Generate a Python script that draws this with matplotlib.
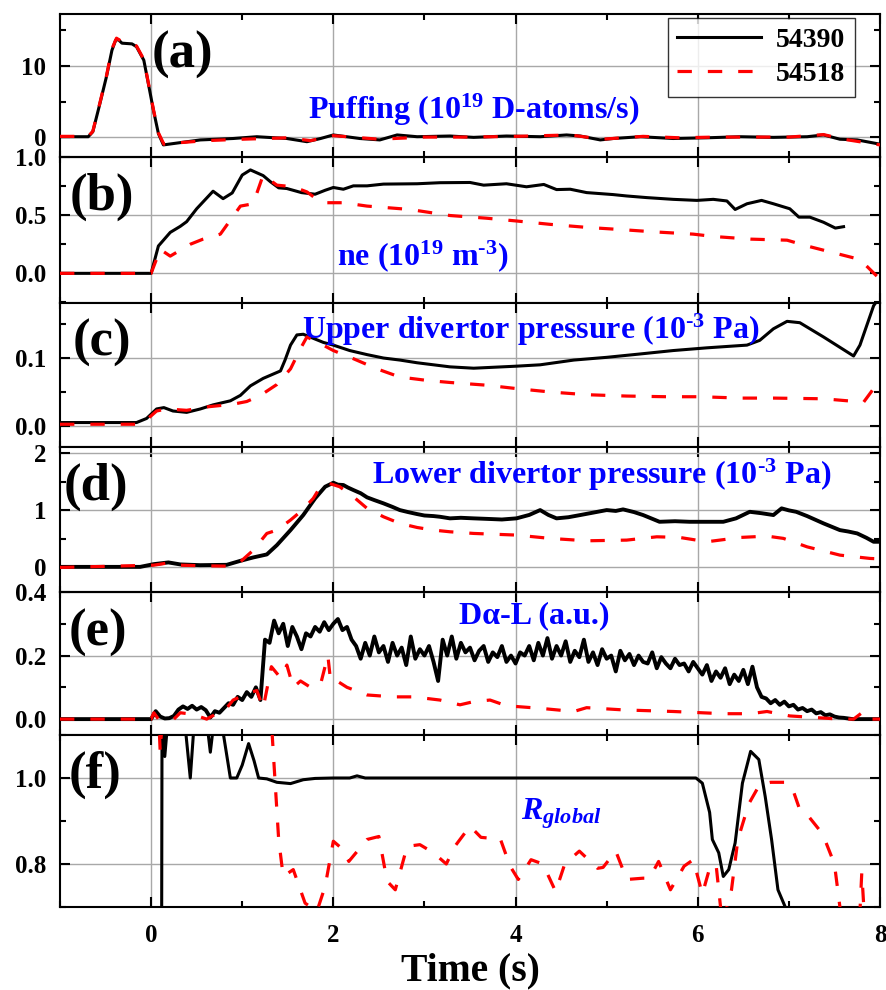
import numpy as np
import matplotlib
matplotlib.use("Agg")
import matplotlib.pyplot as plt
from matplotlib.ticker import MultipleLocator

plt.rcParams['font.family'] = ['Liberation Serif', 'DejaVu Serif']
plt.rcParams['font.weight'] = 'bold'
plt.rcParams['mathtext.fontset'] = 'custom'
plt.rcParams['mathtext.rm'] = 'Liberation Serif:bold'
plt.rcParams['mathtext.bf'] = 'Liberation Serif:bold'
plt.rcParams['mathtext.it'] = 'Liberation Serif:italic:bold'

shots = ['54390', '54518']

# (a) gas puffing, 10^19 D-atoms/s
a_t_54390 = [-1, -0.69, -0.64, -0.57, -0.49, -0.43, -0.39, -0.36, -0.32, -0.21, -0.16, -0.08, -0.03,
             0.025, 0.08, 0.135, 0.25, 0.54, 0.9, 1.16, 1.49, 1.71, 1.86, 2.0, 2.29, 2.51, 2.7, 2.92,
             3.28, 3.54, 3.9, 4.27, 4.56, 4.71, 4.93, 5.07, 5.37, 5.73, 6.1, 6.47, 6.83, 7.2, 7.38,
             7.56, 7.75, 8.0]
a_v_54390 = [0.05, 0.05, 0.75, 4.3, 8.5, 12.2, 13.6, 13.7, 13.2, 13.1, 12.7, 10.8, 7.5,
             3.8, 0.5, -1.1, -0.9, -0.4, -0.2, 0.05, -0.2, -0.65, -0.2, 0.3, -0.2, -0.4, 0.3, 0.05,
             0.15, -0.04, 0.15, 0.05, 0.3, 0.15, -0.4, -0.2, 0.05, -0.2, -0.1, 0.05, -0.04, 0.05, 0.3,
             -0.3, -0.4, -1.0]
a_t_54518 = [-1, -0.69, -0.64, -0.57, -0.49, -0.43, -0.38, -0.33, -0.21, -0.16, -0.08, -0.03,
             0.025, 0.08, 0.14, 0.3, 0.6, 1.0, 1.5, 1.75, 2.0, 2.5, 3.0, 3.5, 4.0, 4.6, 4.95, 5.4,
             5.8, 6.2, 6.6, 7.0, 7.38, 7.6, 8.0]
a_v_54518 = [0.1, 0.1, 0.8, 4.4, 8.6, 12.4, 13.9, 13.5, 13.2, 12.8, 10.9, 7.6,
             3.9, 0.6, -1.0, -0.8, -0.5, -0.3, -0.1, -0.5, 0.2, -0.3, 0.0, 0.0, 0.1, 0.3, -0.3, 0.1,
             -0.1, 0.0, 0.0, 0.0, 0.35, -0.3, -1.1]

# (b) line-averaged density, 10^19 m^-3
b_t_54390 = [-1, 0.0, 0.08, 0.21, 0.32, 0.39, 0.50, 0.68, 0.79, 0.89, 1.00, 1.09, 1.23, 1.31, 1.40,
             1.49, 1.65, 1.80, 1.91, 2.00, 2.11, 2.22, 2.37, 2.55, 2.92, 3.17, 3.50, 3.65, 3.90, 4.12,
             4.31, 4.45, 4.60, 4.78, 5.07, 5.22, 5.44, 5.73, 5.99, 6.17, 6.32, 6.41, 6.54, 6.70, 6.83,
             7.01, 7.11, 7.23, 7.38, 7.51, 7.60]
b_v_54390 = [0, 0, 0.235, 0.352, 0.404, 0.444, 0.555, 0.706, 0.642, 0.691, 0.845, 0.889, 0.840,
             0.787, 0.735, 0.729, 0.694, 0.680, 0.714, 0.738, 0.723, 0.752, 0.752, 0.767, 0.770,
             0.779, 0.781, 0.758, 0.770, 0.744, 0.764, 0.720, 0.723, 0.694, 0.677, 0.665, 0.651,
             0.636, 0.627, 0.636, 0.622, 0.549, 0.598, 0.627, 0.598, 0.555, 0.483, 0.483, 0.439,
             0.389, 0.401]
b_t_54518 = [-1, 0.0, 0.10, 0.21, 0.43, 0.57, 0.76, 0.98, 1.12, 1.23, 1.38, 1.56, 1.71, 1.87, 2.11,
             2.37, 2.84, 3.28, 3.68, 4.01, 4.38, 4.78, 5.18, 5.51, 5.95, 6.17, 6.58, 6.98, 7.20, 7.56,
             7.78, 7.93, 8.0]
b_v_54518 = [0, 0, 0.206, 0.148, 0.25, 0.294, 0.337, 0.578, 0.598, 0.845, 0.758, 0.744, 0.700,
             0.607, 0.607, 0.578, 0.549, 0.497, 0.474, 0.450, 0.421, 0.395, 0.375, 0.357, 0.337,
             0.317, 0.294, 0.285, 0.235, 0.163, 0.119, 0.003, -0.05]

# (c) upper divertor pressure, 10^-3 Pa
c_t_54390 = [-1, -0.16, -0.05, 0.06, 0.14, 0.24, 0.39, 0.54, 0.68, 0.87, 0.98, 1.09, 1.23, 1.42,
             1.47, 1.53, 1.60, 1.67, 1.78, 1.89, 2.00, 2.18, 2.37, 2.55, 2.73, 2.92, 3.28, 3.54,
             4.01, 4.27, 4.64, 5.00, 5.37, 5.73, 6.10, 6.54, 6.68, 6.83, 6.98, 7.12, 7.38, 7.71,
             7.78, 7.93, 8.05]
c_v_54390 = [0.005, 0.005, 0.011, 0.025, 0.027, 0.022, 0.020, 0.025, 0.031, 0.037, 0.045, 0.059,
             0.070, 0.081, 0.097, 0.119, 0.134, 0.135, 0.129, 0.123, 0.119, 0.111, 0.105, 0.100,
             0.097, 0.093, 0.087, 0.085, 0.088, 0.090, 0.097, 0.101, 0.106, 0.111, 0.115, 0.119,
             0.126, 0.143, 0.154, 0.152, 0.131, 0.103, 0.119, 0.177, 0.20]
c_t_54518 = [-1, -0.16, -0.05, 0.06, 0.17, 0.39, 0.61, 0.90, 1.05, 1.20, 1.38, 1.53, 1.64, 1.71,
             1.86, 2.00, 2.22, 2.48, 2.73, 3.03, 3.28, 3.68, 4.01, 4.38, 4.78, 5.22, 5.66, 6.03,
             6.47, 6.83, 7.38, 7.82, 7.93, 8.03]
c_v_54518 = [0.0025, 0.0025, 0.009, 0.022, 0.025, 0.023, 0.028, 0.032, 0.036, 0.045, 0.061, 0.084,
             0.114, 0.131, 0.121, 0.111, 0.099, 0.084, 0.072, 0.067, 0.064, 0.060, 0.055, 0.050,
             0.046, 0.044, 0.043, 0.043, 0.041, 0.041, 0.040, 0.035, 0.055, 0.075]

# (d) lower divertor pressure, 10^-3 Pa
d_t_54390 = [-1, -0.12, 0.03, 0.19, 0.32, 0.54, 0.83, 0.98, 1.12, 1.27, 1.38, 1.53, 1.67, 1.80,
             1.91, 2.00, 2.05, 2.11, 2.16, 2.22, 2.30, 2.37, 2.45, 2.55, 2.65, 2.73, 2.82, 2.92,
             3.00, 3.10, 3.17, 3.28, 3.40, 3.54, 3.70, 3.85, 4.01, 4.15, 4.27, 4.36, 4.45, 4.58,
             4.71, 4.85, 5.00, 5.10, 5.18, 5.30, 5.40, 5.58, 5.75, 5.91, 6.10, 6.28, 6.42, 6.57,
             6.70, 6.83, 6.92, 7.00, 7.08, 7.20, 7.38, 7.56, 7.65, 7.75, 7.85, 7.93, 8.0]
d_v_54390 = [0.01, 0.01, 0.058, 0.088, 0.053, 0.04, 0.046, 0.116, 0.175, 0.228, 0.39, 0.654,
             0.918, 1.21, 1.414, 1.484, 1.45, 1.444, 1.40, 1.356, 1.30, 1.228, 1.18, 1.123, 1.06,
             1.005, 0.97, 0.935, 0.91, 0.90, 0.888, 0.86, 0.87, 0.86, 0.85, 0.84, 0.86, 0.92,
             1.005, 0.92, 0.86, 0.88, 0.918, 0.96, 1.005, 0.99, 1.017, 0.97, 0.918, 0.80, 0.81,
             0.80, 0.80, 0.80, 0.86, 0.975, 0.95, 0.918, 1.035, 1.00, 0.975, 0.90, 0.772, 0.654,
             0.63, 0.596, 0.52, 0.45, 0.45]
d_t_54518 = [-1, 0.03, 0.19, 0.32, 0.54, 0.83, 0.98, 1.12, 1.27, 1.38, 1.53, 1.66, 1.78, 1.87,
             1.96, 2.07, 2.22, 2.37, 2.55, 2.73, 2.92, 3.10, 3.28, 3.54, 4.01, 4.38, 4.78, 5.22,
             5.55, 5.80, 6.10, 6.47, 6.76, 6.94, 7.20, 7.56, 7.89, 8.0]
d_v_54518 = [0.0, 0.04, 0.08, 0.04, 0.03, 0.023, 0.1, 0.30, 0.596, 0.654, 0.83, 1.005, 1.21,
             1.444, 1.47, 1.414, 1.239, 1.035, 0.888, 0.772, 0.70, 0.654, 0.625, 0.596, 0.567,
             0.509, 0.467, 0.479, 0.537, 0.526, 0.45, 0.526, 0.549, 0.509, 0.361, 0.216, 0.158,
             0.15]

# (e) D-alpha lower, a.u.; 54390 sampled every 0.05 s from t = 0
e_t_54390 = np.arange(0, 8.001, 0.05)
e_v_54390 = [0.000, 0.025, 0.008, 0.002, 0.003, 0.010, 0.030, 0.040, 0.032, 0.042,
             0.030, 0.038, 0.028, 0.005, 0.025, 0.020, 0.035, 0.050, 0.045, 0.070,
             0.060, 0.085, 0.070, 0.100, 0.060, 0.250, 0.240, 0.310, 0.270, 0.300,
             0.230, 0.290, 0.260, 0.220, 0.270, 0.260, 0.290, 0.275, 0.305, 0.280,
             0.300, 0.315, 0.280, 0.290, 0.250, 0.230, 0.190, 0.240, 0.200, 0.260,
             0.210, 0.230, 0.180, 0.240, 0.200, 0.225, 0.170, 0.260, 0.190, 0.220,
             0.200, 0.230, 0.180, 0.120, 0.250, 0.200, 0.260, 0.190, 0.240, 0.210,
             0.225, 0.185, 0.215, 0.230, 0.180, 0.210, 0.195, 0.230, 0.180, 0.200,
             0.175, 0.210, 0.200, 0.230, 0.185, 0.240, 0.200, 0.255, 0.190, 0.230,
             0.200, 0.245, 0.180, 0.215, 0.195, 0.250, 0.180, 0.210, 0.170, 0.220,
             0.190, 0.200, 0.150, 0.215, 0.185, 0.205, 0.170, 0.200, 0.180, 0.175,
             0.210, 0.160, 0.195, 0.175, 0.160, 0.190, 0.170, 0.175, 0.150, 0.180,
             0.160, 0.140, 0.170, 0.120, 0.150, 0.130, 0.160, 0.110, 0.140, 0.120,
             0.155, 0.110, 0.165, 0.100, 0.070, 0.065, 0.050, 0.060, 0.045, 0.055,
             0.040, 0.045, 0.030, 0.035, 0.025, 0.030, 0.018, 0.022, 0.012, 0.015,
             0.008, 0.005, 0.004, 0.002, 0.000, 0.000, 0.000, 0.000, 0.000, 0.000,
             0.000]
e_t_54518 = [-1, 0.0, 0.03, 0.08, 0.25, 0.32, 0.46, 0.61, 0.83, 0.90, 1.05, 1.16, 1.23, 1.32,
             1.42, 1.49, 1.56, 1.64, 1.75, 1.86, 1.94, 1.97, 2.04, 2.15, 2.37, 2.66, 2.88, 3.17,
             3.39, 3.54, 3.72, 3.90, 4.27, 4.64, 4.78, 5.18, 5.73, 6.28, 6.58, 6.76, 7.01, 7.56,
             7.71, 7.82, 7.89, 8.0]
e_v_54518 = [0, 0, 0.02, 0.0, 0.0, 0.02, 0.015, 0.0, 0.035, 0.06, 0.08, 0.09, 0.035, 0.165,
             0.13, 0.17, 0.10, 0.12, 0.10, 0.11, 0.20, 0.12, 0.12, 0.10, 0.076, 0.07, 0.07, 0.06,
             0.045, 0.055, 0.06, 0.042, 0.034, 0.024, 0.036, 0.029, 0.024, 0.017, 0.017, 0.024,
             0.01, 0.0, 0.0, 0.024, 0.0, 0.0]

# (f) global recycling coefficient
f_t_54390 = [-1, 0.11, 0.12, 0.15, 0.19, 0.36, 0.43, 0.48, 0.60, 0.65, 0.70, 0.78, 0.87, 0.94,
             1.00, 1.07, 1.13, 1.18, 1.27, 1.38, 1.53, 1.67, 1.80, 2.00, 2.18, 2.26, 2.35, 3.0,
             4.0, 5.0, 5.98, 6.05, 6.13, 6.16, 6.23, 6.28, 6.34, 6.41, 6.49, 6.58, 6.67, 6.74,
             6.81, 6.88, 6.96, 7.05, 7.5, 8.0]
f_v_54390 = [0.0, 0.0, 1.15, 1.05, 1.15, 1.15, 1.0, 1.15, 1.15, 1.06, 1.15, 1.12, 1.0, 1.0,
             1.03, 1.08, 1.04, 1.0, 0.998, 0.99, 0.987, 0.996, 0.999, 1.0, 1.0, 1.005, 1.0, 1.0,
             1.0, 1.0, 1.0, 0.988, 0.92, 0.857, 0.826, 0.771, 0.787, 0.849, 0.988, 1.062, 1.043,
             0.957, 0.857, 0.74, 0.70, 0.6, 0.5, 0.5]
f_t_54518 = [-1, 0.05, 0.10, 0.14, 0.2, 1.30, 1.33, 1.40, 1.45, 1.56, 1.69, 1.82, 1.91, 2.00,
             2.11, 2.17, 2.37, 2.50, 2.59, 2.68, 2.81, 2.95, 3.10, 3.24, 3.33, 3.50, 3.62, 3.72,
             3.83, 3.94, 4.03, 4.17, 4.30, 4.44, 4.54, 4.70, 4.90, 4.96, 5.10, 5.22, 5.40, 5.47,
             5.57, 5.70, 5.85, 5.95, 6.05, 6.13, 6.20, 6.27, 6.37, 6.44, 6.56, 6.68, 6.80, 6.97,
             7.04, 7.12, 7.20, 7.37, 7.50, 7.56, 7.65, 7.76, 7.80, 7.85, 8.0]
f_v_54518 = [1.3, 1.3, 1.06, 1.2, 1.3, 1.3, 1.097, 0.857, 0.771, 0.787, 0.709, 0.69, 0.748,
             0.853, 0.833, 0.806, 0.857, 0.864, 0.76, 0.74, 0.841, 0.845, 0.826, 0.80, 0.84,
             0.888, 0.862, 0.86, 0.86, 0.795, 0.764, 0.81, 0.80, 0.736, 0.80, 0.83, 0.79, 0.792,
             0.83, 0.764, 0.767, 0.767, 0.806, 0.74, 0.795, 0.81, 0.73, 0.79, 0.80, 0.66, 0.74,
             0.857, 0.94, 0.985, 0.99, 0.99, 0.975, 0.926, 0.915, 0.87, 0.80, 0.70, 0.60, 0.60,
             0.78, 0.60, 0.60]

panels = [
    ('(a)', a_t_54390, a_v_54390, a_t_54518, a_v_54518, (-2.8, 17.3), 10, 5, '%d',
     'Puffing (10$^{19}$ D-atoms/s)', (0.302, 0.266), (0.112, 0.713)),
    ('(b)', b_t_54390, b_v_54390, b_t_54518, b_v_54518, (-0.255, 1.0), 0.5, 0.25, '%.1f',
     'ne (10$^{19}$ m$^{\\text{-}3}$)', (0.338, 0.26), (0.012, 0.726)),
    ('(c)', c_t_54390, c_v_54390, c_t_54518, c_v_54518, (-0.031, 0.181), 0.1, 0.05, '%.1f',
     'Upper divertor pressure (10$^{\\text{-}3}$ Pa)', (0.295, 0.748), (0.015, 0.72)),
    ('(d)', d_t_54390, d_v_54390, d_t_54518, d_v_54518, (-0.43, 2.11), 1, 0.5, '%d',
     'Lower divertor pressure (10$^{\\text{-}3}$ Pa)', (0.380, 0.743), (0.004, 0.724)),
    ('(e)', e_t_54390, e_v_54390, e_t_54518, e_v_54518, (-0.05, 0.4), 0.2, 0.1, '%.1f',
     'D\u03b1-L (a.u.)', (0.487, 0.785), (0.01, 0.713)),
    ('(f)', f_t_54390, f_v_54390, f_t_54518, f_v_54518, (0.7, 1.1), 0.2, 0.1, '%.1f',
     '$R_{global}$', (0.562, 0.51), (0.01, 0.767)),
]

# panel edges in pixels (top, bottom) of the 887x990 canvas
edges = [(14, 157), (157, 303), (303, 447), (447, 592), (592, 735), (735, 907)]
W, H = 887, 990

fig = plt.figure(figsize=(W / 100, H / 100), dpi=100)

for i, (lab, t1, v1, t2, v2, ylim, major, minor, fmt, note, note_xy, lab_xy) in enumerate(panels):
    top, bot = edges[i]
    ax = fig.add_axes([60 / W, 1 - bot / H, 820 / W, (bot - top) / H])
    # 54390 baseline before t=0 for the sampled D-alpha trace
    if lab == '(e)':
        t1 = np.concatenate([[-1], t1])
        v1 = [0.0] + list(v1)
    lw1 = 2.8 if lab in ('(d)', '(e)') else 2.2
    ax.plot(t1, v1, color='black', lw=lw1, label=shots[0], zorder=3)
    ax.plot(t2, v2, color='red', lw=2.3, dashes=(4.5, 5), label=shots[1], zorder=4)

    ax.set_xlim(-1, 8)
    ax.set_ylim(*ylim)
    ax.xaxis.set_major_locator(MultipleLocator(2))
    ax.xaxis.set_minor_locator(MultipleLocator(1))
    ax.yaxis.set_major_locator(MultipleLocator(major))
    ax.yaxis.set_minor_locator(MultipleLocator(minor))
    ax.yaxis.set_major_formatter(plt.FormatStrFormatter(fmt))
    ax.grid(True, which='major', color='#a8a8a8', lw=1.0, zorder=0)
    ax.tick_params(which='both', direction='in', top=True, right=True, labelsize=18, width=1.5)
    ax.tick_params(which='major', length=7)
    ax.tick_params(which='minor', length=4)
    ax.tick_params(axis='y', pad=10)
    ax.tick_params(axis='x', pad=12)
    for s in ax.spines.values():
        s.set_linewidth(1.5)
    if i < len(panels) - 1:
        ax.tick_params(labelbottom=False)
    else:
        ax.set_xlabel('Time (s)', fontsize=28.5, fontweight='bold', labelpad=4)

    ax.text(lab_xy[0], lab_xy[1], lab, transform=ax.transAxes, fontsize=38,
            fontweight='bold', va='center', ha='left', zorder=6)
    ax.text(note_xy[0], note_xy[1], note, transform=ax.transAxes, fontsize=23,
            fontweight='bold', color='blue', va='baseline', ha='left', zorder=6)

    if i == 0:
        leg = ax.legend(loc='upper right', bbox_to_anchor=(0.9695, 0.972), fontsize=20,
                        frameon=True, fancybox=False, edgecolor='black', borderaxespad=0,
                        handlelength=3.0, handletextpad=0.55, labelspacing=0.3, borderpad=0.35)
        leg.get_frame().set_linewidth(1.0)
        leg.set_zorder(7)

fig.savefig('out.png', dpi=100)
